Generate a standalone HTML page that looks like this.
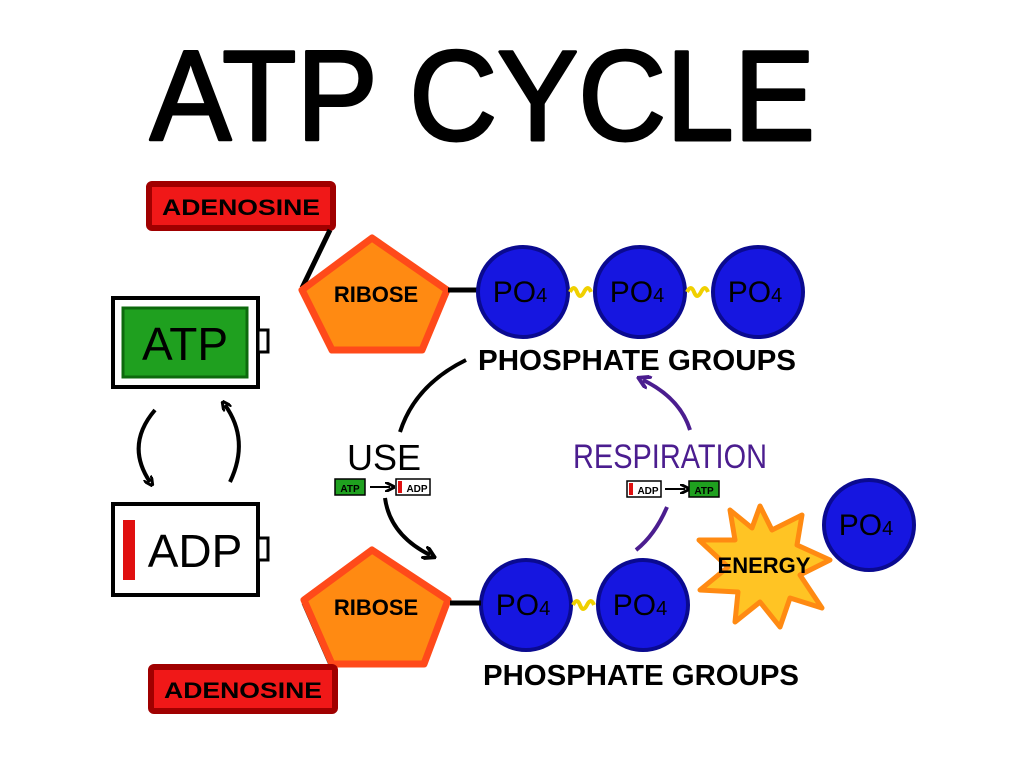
<!DOCTYPE html>
<html><head><meta charset="utf-8"><style>
body{margin:0;background:#fff}
svg{display:block}
text{font-family:"Liberation Sans",sans-serif}
.b{font-weight:bold}
</style></head><body>
<svg width="1024" height="768" viewBox="0 0 1024 768">
<defs>
<marker id="ah" markerWidth="10" markerHeight="10" refX="5" refY="5" orient="auto" markerUnits="userSpaceOnUse"><path d="M0,0 L10,5 L0,10" fill="none" stroke="#000" stroke-width="3"/></marker>
<marker id="ahp" markerWidth="14" markerHeight="14" refX="7" refY="7" orient="auto" markerUnits="userSpaceOnUse"><path d="M0,0 L12,7 L0,14" fill="none" stroke="#4b1d8f" stroke-width="4"/></marker>
<marker id="ahb" markerWidth="14" markerHeight="14" refX="7" refY="7" orient="auto" markerUnits="userSpaceOnUse"><path d="M0,0 L12,7 L0,14" fill="none" stroke="#000" stroke-width="4"/></marker>
</defs>
<text x="150" y="140" font-size="128" textLength="665" lengthAdjust="spacingAndGlyphs" stroke="#000" stroke-width="3" stroke-linejoin="round">ATP CYCLE</text>

<!-- top adenosine -->
<rect x="149" y="184" width="184" height="44" fill="#f01818" stroke="#a00000" stroke-width="6" rx="3"/>
<text class="b" x="241" y="215" font-size="22" text-anchor="middle" textLength="158" lengthAdjust="spacingAndGlyphs">ADENOSINE</text>
<path d="M330,230 L302,288" stroke="#000" stroke-width="5"/>
<polygon points="372,238 447,290 422,350 332,350 302,290" fill="#ff8a12" stroke="#ff4a1a" stroke-width="7" stroke-linejoin="round"/>
<text class="b" x="376" y="302" font-size="22" text-anchor="middle">RIBOSE</text>
<path d="M448,290 L478,290" stroke="#000" stroke-width="5"/>
<g fill="#1616e0" stroke="#0a0a90" stroke-width="4">
<circle cx="523" cy="292" r="45"/><circle cx="640" cy="292" r="45"/><circle cx="758" cy="292" r="45"/>
<circle cx="526" cy="605" r="45"/><circle cx="643" cy="605" r="45"/><circle cx="869" cy="525" r="45"/>
</g>
<g font-size="30" text-anchor="middle" fill="#000">
<text x="520" y="302">PO<tspan font-size="20">4</tspan></text>
<text x="637" y="302">PO<tspan font-size="20">4</tspan></text>
<text x="755" y="302">PO<tspan font-size="20">4</tspan></text>
<text x="523" y="615">PO<tspan font-size="20">4</tspan></text>
<text x="640" y="615">PO<tspan font-size="20">4</tspan></text>
<text x="866" y="535">PO<tspan font-size="20">4</tspan></text>
</g>
<g stroke="#f0d000" stroke-width="4" fill="none">
<path d="M570,292 q4,-8 7,0 t7,0 t7,0"/><path d="M687,292 q4,-8 7,0 t7,0 t7,0"/><path d="M573,605 q4,-8 7,0 t7,0 t7,0"/>
</g>
<text class="b" x="478" y="370" font-size="29" textLength="318" lengthAdjust="spacingAndGlyphs">PHOSPHATE GROUPS</text>

<!-- ATP battery -->
<rect x="113" y="298" width="145" height="89" fill="#fff" stroke="#000" stroke-width="4"/>
<rect x="258" y="330" width="10" height="22" fill="#fff" stroke="#000" stroke-width="3"/>
<rect x="123" y="308" width="124" height="69" fill="#1fa01f" stroke="#0c6a0c" stroke-width="3"/>
<text x="185" y="360" font-size="46" text-anchor="middle">ATP</text>
<path d="M155,410 Q125,445 150,482" stroke="#000" stroke-width="4" fill="none" marker-end="url(#ah)"/>
<path d="M230,482 Q250,440 225,405" stroke="#000" stroke-width="4" fill="none" marker-end="url(#ah)"/>
<!-- ADP battery -->
<rect x="113" y="504" width="145" height="91" fill="#fff" stroke="#000" stroke-width="4"/>
<rect x="258" y="538" width="10" height="22" fill="#fff" stroke="#000" stroke-width="3"/>
<rect x="123" y="520" width="12" height="60" fill="#e01010"/>
<text x="195" y="567" font-size="46" text-anchor="middle">ADP</text>

<!-- cycle -->
<path d="M466,360 Q415,385 400,432" stroke="#000" stroke-width="4" fill="none"/>
<text x="384" y="470" font-size="36" text-anchor="middle">USE</text>
<g>
<rect x="335" y="479" width="30" height="16" fill="#1fa01f" stroke="#000" stroke-width="1.5"/>
<text class="b" x="350" y="492" font-size="10" text-anchor="middle">ATP</text>
<path d="M370,487 L390,487" stroke="#000" stroke-width="2" marker-end="url(#ah)"/>
<rect x="396" y="479" width="34" height="16" fill="#fff" stroke="#000" stroke-width="1.5"/>
<rect x="398" y="481" width="4" height="12" fill="#e01010"/>
<text class="b" x="417" y="492" font-size="10" text-anchor="middle">ADP</text>
</g>
<path d="M385,498 Q390,535 430,555" stroke="#000" stroke-width="4" fill="none" marker-end="url(#ahb)"/>
<text x="670" y="468" font-size="34" text-anchor="middle" fill="#4b1d8f" textLength="194" lengthAdjust="spacingAndGlyphs">RESPIRATION</text>
<g>
<rect x="627" y="481" width="34" height="16" fill="#fff" stroke="#000" stroke-width="1.5"/>
<rect x="629" y="483" width="4" height="12" fill="#e01010"/>
<text class="b" x="648" y="494" font-size="10" text-anchor="middle">ADP</text>
<path d="M665,489 L685,489" stroke="#000" stroke-width="2" marker-end="url(#ah)"/>
<rect x="689" y="481" width="30" height="16" fill="#1fa01f" stroke="#000" stroke-width="1.5"/>
<text class="b" x="704" y="494" font-size="10" text-anchor="middle">ATP</text>
</g>
<path d="M667,507 Q655,535 636,550" stroke="#4b1d8f" stroke-width="4" fill="none"/>
<path d="M690,430 Q680,398 643,380" stroke="#4b1d8f" stroke-width="4" fill="none" marker-end="url(#ahp)"/>

<!-- bottom -->
<path d="M304,603 L332,667" stroke="#000" stroke-width="5"/>
<polygon points="372,550 448,600 424,664 332,664 304,600" fill="#ff8a12" stroke="#ff4a1a" stroke-width="7" stroke-linejoin="round"/>
<text class="b" x="376" y="615" font-size="22" text-anchor="middle">RIBOSE</text>
<path d="M450,603 L481,603" stroke="#000" stroke-width="5"/>
<rect x="151" y="667" width="184" height="44" fill="#f01818" stroke="#a00000" stroke-width="6" rx="3"/>
<text class="b" x="243" y="698" font-size="22" text-anchor="middle" textLength="158" lengthAdjust="spacingAndGlyphs">ADENOSINE</text>
<text class="b" x="483" y="685" font-size="29" textLength="316" lengthAdjust="spacingAndGlyphs">PHOSPHATE GROUPS</text>
<polygon points="760,506 772,530 802,515 797,545 830,560 800,575 822,608 790,598 780,627 760,602 735,622 738,592 700,590 728,567 699,540 735,540 730,510 752,528" fill="#ffc424" stroke="#ff8a12" stroke-width="5" stroke-linejoin="round"/>
<text class="b" x="764" y="573" font-size="22" text-anchor="middle">ENERGY</text>
</svg>
</body></html>
